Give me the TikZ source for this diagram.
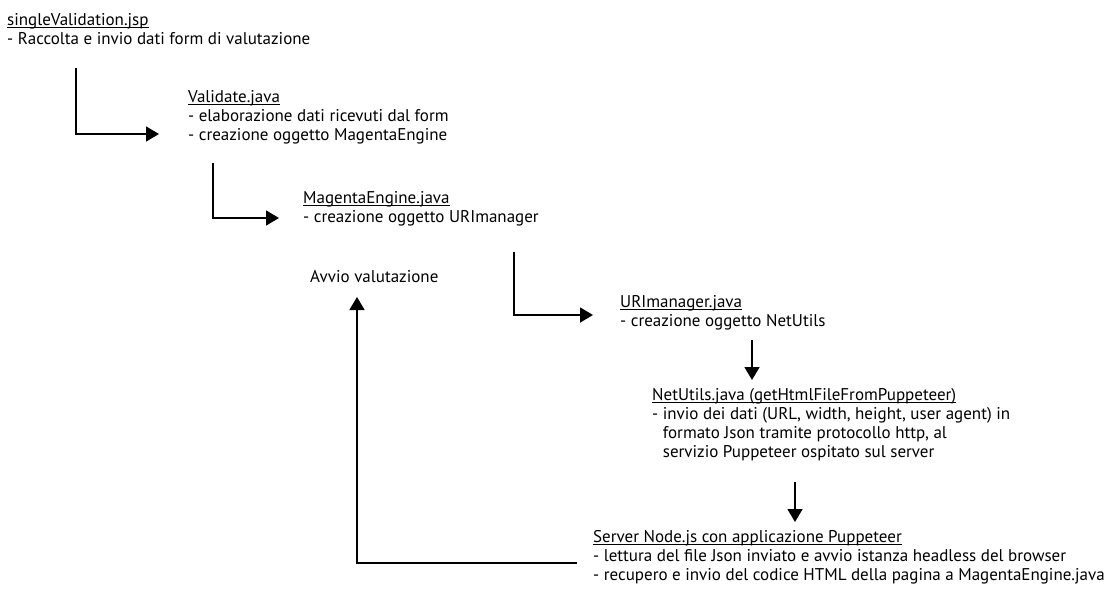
\documentclass[tikz,border=0pt]{standalone}
\usepackage{fontspec}
\setmainfont{PT Sans}
\usetikzlibrary{arrows.meta}
\newsavebox{\sottobox}
\newcommand{\sottolinea}[1]{\sbox{\sottobox}{#1}\rlap{\rule[-2.6pt]{\wd\sottobox}{0.8pt}}\usebox{\sottobox}}

\tikzset{
  txt/.style={anchor=north west, inner sep=0pt, align=left, font=\fontsize{17}{19}\selectfont},
  flow/.style={line width=1.5pt, -{Triangle[length=13pt,width=15pt]}},
}

\begin{document}
\begin{tikzpicture}[x=1pt,y=-1pt]
  \useasboundingbox (0,0) rectangle (1116,589);
  \fill[white] (0,0) rectangle (1116,589);
  % blocchi di testo
  \node[txt] (jsp) at (7,13) {\sottolinea{singleValidation.jsp}\\- Raccolta e invio dati form di valutazione};
  \node[txt] (val) at (188,90) {\sottolinea{Validate.java}\\- elaborazione dati ricevuti dal form\\- creazione oggetto MagentaEngine};
  \node[txt] (mag) at (303,191) {\sottolinea{MagentaEngine.java}\\- creazione oggetto URImanager};
  \node[txt] (avvio) at (310,270) {Avvio valutazione};
  \node[txt] (uri) at (620,295) {\sottolinea{URImanager.java}\\- creazione oggetto NetUtils};
  \node[txt] (net) at (652,388) {\sottolinea{NetUtils.java (getHtmlFileFromPuppeteer)}\\- invio dei dati (URL, width, height, user agent) in\\\hphantom{- }formato Json tramite protocollo http, al\\\hphantom{- }servizio Puppeteer ospitato sul server};
  \node[txt] (srv) at (593,530) {\sottolinea{Server Node.js con applicazione Puppeteer}\\- lettura del file Json inviato e avvio istanza headless del browser\\- recupero e invio del codice HTML della pagina a MagentaEngine.java};
  % frecce
  \coordinate (a1) at (76,68);   \coordinate (b1) at (159,134);
  \coordinate (a2) at (213,163); \coordinate (b2) at (279,218);
  \coordinate (a3) at (514,252); \coordinate (b3) at (593,315);
  \coordinate (a4) at (752,340); \coordinate (b4) at (752,380);
  \coordinate (a5) at (795,482); \coordinate (b5) at (795,522);
  \coordinate (r1) at (577,563); \coordinate (r2) at (357,297);
  \draw[flow] (a1) |- (b1);
  \draw[flow] (a2) |- (b2);
  \draw[flow] (a3) |- (b3);
  \draw[flow] (a4) -- (b4);
  \draw[flow] (a5) -- (b5);
  \draw[flow] (r1) -| (r2);
\end{tikzpicture}
\end{document}
